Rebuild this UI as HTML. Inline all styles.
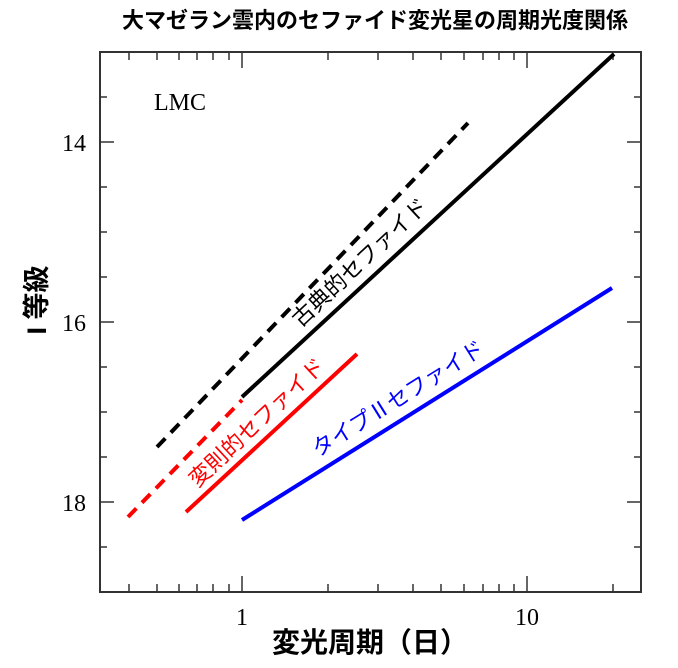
<!DOCTYPE html>
<html><head><meta charset="utf-8"><style>
html,body{margin:0;padding:0;background:#fff;}
svg{display:block;}
.t{font-family:"Liberation Serif",serif;font-size:24px;fill:#000;}
.j{font-family:"Liberation Sans","Noto Sans CJK JP",sans-serif;}
</style></head><body>
<svg width="678" height="668" viewBox="0 0 678 668" xmlns="http://www.w3.org/2000/svg">
<text x="375" y="28" text-anchor="middle" class="j" font-size="22" font-weight="bold">大マゼラン雲内のセファイド変光星の周期光度関係</text>
<g stroke="#333" stroke-width="2" fill="none">
<rect x="100" y="52" width="541" height="540"/>
</g>
<g stroke="#333" stroke-width="1.5">
<path d="M100 97h7M100 142h14M100 187h7M100 232h7M100 277h7M100 322h14M100 367h7M100 412h7M100 457h7M100 502h14M100 547h7
M641 97h-7M641 142h-14M641 187h-7M641 232h-7M641 277h-7M641 322h-14M641 367h-7M641 412h-7M641 457h-7M641 502h-14M641 547h-7"/>
<path d="M129 592v-8M157 592v-8M179 592v-8M197 592v-8M213 592v-8M229 592v-8M242 592v-16M328 592v-8M378 592v-8M413 592v-8M441 592v-8M464 592v-8M483 592v-8M499 592v-8M514 592v-8M527 592v-16M613 592v-8
M129 52v8M157 52v8M179 52v8M197 52v8M213 52v8M229 52v8M242 52v16M328 52v8M378 52v8M413 52v8M441 52v8M464 52v8M483 52v8M499 52v8M514 52v8M527 52v16M613 52v8"/>
</g>
<text x="86" y="151" text-anchor="end" class="t">14</text>
<text x="86" y="331" text-anchor="end" class="t">16</text>
<text x="86" y="511" text-anchor="end" class="t">18</text>
<text x="242" y="625" text-anchor="middle" class="t">1</text>
<text x="527" y="625" text-anchor="middle" class="t">10</text>
<text x="154" y="110" class="t" font-size="29">LMC</text>
<g stroke-width="4" fill="none">
<line x1="242" y1="397" x2="614" y2="54" stroke="#000"/>
<line x1="157" y1="447" x2="468" y2="123" stroke="#000" stroke-dasharray="12,8"/>
<line x1="128" y1="517" x2="242" y2="400" stroke="#f00" stroke-dasharray="12,8"/>
<line x1="186" y1="512" x2="357" y2="354" stroke="#f00"/>
<line x1="242" y1="520" x2="612" y2="288" stroke="#00f"/>
</g>
<text transform="translate(365,268) rotate(-43)" text-anchor="middle" class="j" font-size="22" fill="#000">古典的セファイド</text>
<text transform="translate(262,428) rotate(-43)" text-anchor="middle" class="j" font-size="22" fill="#f00">変則的セファイド</text>
<text transform="translate(402,405) rotate(-32)" text-anchor="middle" class="j" font-size="22" fill="#00f">タイプⅡセファイド</text>
<text x="370" y="652" text-anchor="middle" class="j" font-size="28" font-weight="bold">変光周期（日）</text>
<text transform="translate(46,300) rotate(-90)" text-anchor="middle" class="j" font-size="27" font-weight="bold">I 等級</text>
</svg>
</body></html>
